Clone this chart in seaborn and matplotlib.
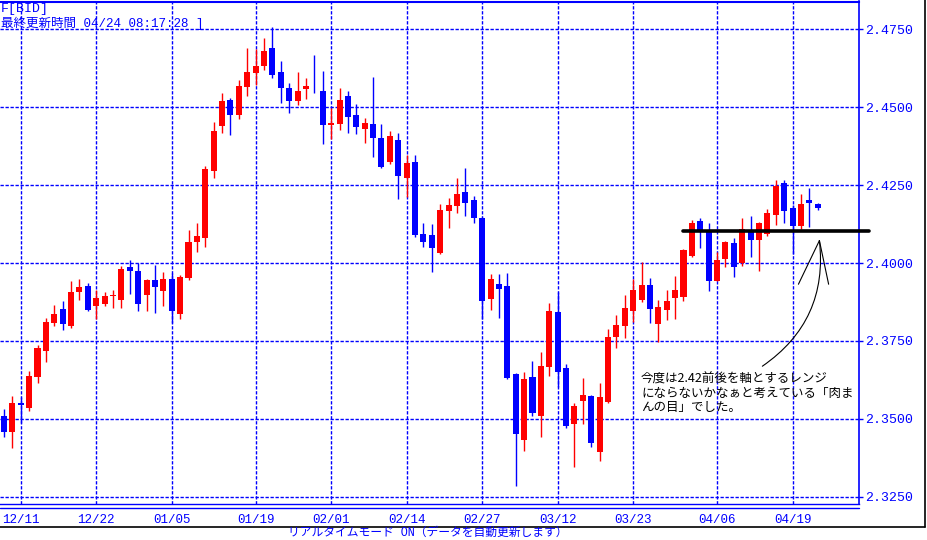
import numpy as np
import pandas as pd
import seaborn as sns
import matplotlib.pyplot as plt
from matplotlib.lines import Line2D

# Daily candles (BID), oldest first
opens = [2.3510, 2.3459, 2.3552, 2.3536, 2.3633, 2.3719, 2.3809, 2.3853, 2.3797, 2.3906,
         2.3927, 2.3861, 2.3867, 2.3893, 2.3883, 2.3988, 2.3975, 2.3899, 2.3946, 2.3911,
         2.3950, 2.3835, 2.3953, 2.4066, 2.4079, 2.4294, 2.4439, 2.4524, 2.4474, 2.4564,
         2.4609, 2.4631, 2.4691, 2.4614, 2.4563, 2.4519, 2.4557, 2.4563, 2.4553, 2.4442,
         2.4445, 2.4537, 2.4476, 2.4429, 2.4447, 2.4402, 2.4323, 2.4396, 2.4272, 2.4325,
         2.4094, 2.4091, 2.4031, 2.4166, 2.4184, 2.4229, 2.4203, 2.4146, 2.3886, 2.3934,
         2.3927, 2.3645, 2.3433, 2.3635, 2.3508, 2.3668, 2.3844, 2.3664, 2.3485, 2.3559,
         2.3574, 2.3395, 2.3553, 2.3764, 2.3797, 2.3847, 2.3881, 2.3930, 2.3803, 2.3850,
         2.3889, 2.3890, 2.4023, 2.4135, 2.4098, 2.3943, 2.4012, 2.4065, 2.3999, 2.4098,
         2.4073, 2.4092, 2.4153, 2.4258, 2.4178, 2.4120, 2.4203, 2.4190]
highs = [2.3531, 2.3572, 2.3571, 2.3654, 2.3738, 2.3824, 2.3866, 2.3879, 2.3943, 2.3950,
         2.3935, 2.3913, 2.3906, 2.3912, 2.3992, 2.4011, 2.3999, 2.3949, 2.3995, 2.3972,
         2.3969, 2.3962, 2.4107, 2.4129, 2.4312, 2.4451, 2.4547, 2.4531, 2.4588, 2.4691,
         2.4688, 2.4723, 2.4756, 2.4649, 2.4576, 2.4614, 2.4595, 2.4666, 2.4617, 2.4496,
         2.4560, 2.4553, 2.4511, 2.4466, 2.4598, 2.4447, 2.4422, 2.4418, 2.4348, 2.4348,
         2.4129, 2.4126, 2.4190, 2.4210, 2.4272, 2.4306, 2.4216, 2.4148, 2.3966, 2.3966,
         2.3969, 2.3648, 2.3651, 2.3686, 2.3715, 2.3873, 2.3908, 2.3677, 2.3552, 2.3632,
         2.3576, 2.3616, 2.3789, 2.3834, 2.3898, 2.3950, 2.4004, 2.3953, 2.3882, 2.3914,
         2.3959, 2.4045, 2.4138, 2.4146, 2.4127, 2.4034, 2.4070, 2.4079, 2.4145, 2.4152,
         2.4133, 2.4174, 2.4267, 2.4267, 2.4187, 2.4222, 2.4242, 2.4193]
lows = [2.3442, 2.3408, 2.3488, 2.3524, 2.3614, 2.3684, 2.3797, 2.3786, 2.3790, 2.3883,
        2.3847, 2.3822, 2.3861, 2.3857, 2.3857, 2.3902, 2.3847, 2.3847, 2.3841, 2.3863,
        2.3809, 2.3821, 2.3946, 2.4037, 2.4050, 2.4273, 2.4416, 2.4410, 2.4461, 2.4535,
        2.4570, 2.4620, 2.4594, 2.4512, 2.4480, 2.4506, 2.4525, 2.4544, 2.4381, 2.4397,
        2.4426, 2.4416, 2.4413, 2.4384, 2.4339, 2.4305, 2.4317, 2.4207, 2.4211, 2.4085,
        2.4053, 2.3970, 2.4029, 2.4111, 2.4161, 2.4150, 2.4127, 2.3820, 2.3850, 2.3825,
        2.3628, 2.3285, 2.3397, 2.3510, 2.3442, 2.3638, 2.3603, 2.3471, 2.3346, 2.3485,
        2.3411, 2.3365, 2.3551, 2.3729, 2.3761, 2.3812, 2.3876, 2.3809, 2.3747, 2.3818,
        2.3820, 2.3877, 2.4018, 2.4047, 2.3909, 2.3941, 2.3986, 2.3956, 2.3989, 2.4018,
        2.3976, 2.4087, 2.4123, 2.4127, 2.4029, 2.4110, 2.4117, 2.4171]
closes = [2.3459, 2.3552, 2.3543, 2.3638, 2.3726, 2.3812, 2.3837, 2.3806, 2.3908, 2.3924,
          2.3850, 2.3889, 2.3895, 2.3899, 2.3982, 2.3973, 2.3870, 2.3946, 2.3922, 2.3950,
          2.3847, 2.3956, 2.4068, 2.4088, 2.4303, 2.4425, 2.4521, 2.4474, 2.4569, 2.4614,
          2.4633, 2.4681, 2.4602, 2.4560, 2.4519, 2.4553, 2.4569, 2.4560, 2.4442, 2.4448,
          2.4524, 2.4467, 2.4435, 2.4450, 2.4400, 2.4307, 2.4409, 2.4278, 2.4322, 2.4089,
          2.4066, 2.4047, 2.4171, 2.4187, 2.4222, 2.4191, 2.4143, 2.3877, 2.3950, 2.3918,
          2.3631, 2.3450, 2.3629, 2.3519, 2.3670, 2.3847, 2.3652, 2.3478, 2.3542, 2.3577,
          2.3424, 2.3571, 2.3763, 2.3802, 2.3857, 2.3914, 2.3930, 2.3851, 2.3860, 2.3879,
          2.3914, 2.4042, 2.4130, 2.4100, 2.3941, 2.4011, 2.4068, 2.3986, 2.4110, 2.4073,
          2.4127, 2.4161, 2.4248, 2.4168, 2.4120, 2.4190, 2.4191, 2.4178]

tick_pos = [2, 11, 20, 30, 39, 48, 57, 66, 75, 85, 94]
tick_labels = ["12/11", "12/22", "01/05", "01/19", "02/01", "02/14",
               "02/27", "03/12", "03/23", "04/06", "04/19"]
price_ticks = [2.3250, 2.3500, 2.3750, 2.4000, 2.4250, 2.4500, 2.4750]
support_level = 2.4103

note = "今度は2.42前後を軸とするレンジ\nにならないかなぁと考えている「肉ま\nんの目」でした。"

sns.set_theme(style="white")
plt.rcParams['font.family'] = ['Noto Sans CJK JP', 'DejaVu Sans']
MONO_JP = ['Liberation Mono', 'Noto Sans CJK JP']
BLUE = '#0000ff'
RED = '#ff0000'
W, H = 927, 540

fig = plt.figure(figsize=(9.27, 5.40), dpi=100)
ax = fig.add_axes([0, 1 - 504 / H, 859 / W, (504 - 1.5) / H])

df = pd.DataFrame({'open': opens, 'high': highs, 'low': lows, 'close': closes})
df['idx'] = np.arange(len(df))
colors = np.where(df['close'] >= df['open'], RED, BLUE)

# wicks + bodies
ax.vlines(df['idx'], df['low'], df['high'], colors=colors, lw=1.0, zorder=3)
body_bottom = df[['open', 'close']].min(axis=1)
body_h = (df['close'] - df['open']).abs().clip(lower=0.0003)
ax.bar(df['idx'], body_h, bottom=body_bottom, width=0.72, color=colors,
       edgecolor='none', zorder=4)

# support line drawn by hand on the chart
sns.lineplot(x=[81, 103.1], y=[support_level, support_level], color='black',
             lw=2.6, clip_on=False, ax=ax, zorder=5)

# hand drawn arrows
apex = (97.2, 2.4072)
ax.plot([apex[0], 94.7], [apex[1], 2.3932], color='black', lw=0.8, clip_on=False, zorder=5)
ax.plot([apex[0], 98.3], [apex[1], 2.3932], color='black', lw=0.8, clip_on=False, zorder=5)
ax.annotate("", xy=apex, xytext=(90.4, 2.3669),
            arrowprops=dict(arrowstyle='-', connectionstyle='arc3,rad=0.3',
                            color='black', lw=0.8, shrinkA=0, shrinkB=0))

ax.set_xlim(-0.47, 101.92)
ax.set_ylim(2.3227, 2.4839)

ax.set_xticks(tick_pos)
ax.set_xticklabels(tick_labels)
ax.yaxis.tick_right()
ax.set_yticks(price_ticks)
ax.set_yticklabels([f"{v:.4f}" for v in price_ticks])
ax.set_axisbelow(True)
ax.grid(True, color=BLUE, ls=(0, (2.4, 1.2)), lw=1.0)
ax.tick_params(axis='x', length=0, pad=7, colors=BLUE, labelsize=9)
ax.tick_params(axis='y', length=3, width=1, pad=1.5, colors=BLUE, labelsize=9.5)
for lbl in ax.get_xticklabels() + ax.get_yticklabels():
    lbl.set_fontfamily('Liberation Mono')

ax.spines['left'].set_visible(False)
for s in ['top', 'right', 'bottom']:
    ax.spines[s].set_color(BLUE)
ax.spines['top'].set_linewidth(1.5)
ax.spines['right'].set_linewidth(1.2)
ax.spines['bottom'].set_linewidth(1.0)

# second bottom rule, outer black frame
fig.add_artist(Line2D([0, 859 / W], [1 - 507.5 / H] * 2, color=BLUE, lw=1.0))
fig.add_artist(Line2D([0, 925 / W], [1 - 526.5 / H] * 2, color='black', lw=1.2))
fig.add_artist(Line2D([925 / W] * 2, [1 - 526.5 / H, 1], color='black', lw=1.2))

# header / footer / note
fig.text(1 / W, 1 - 9 / H, "F[BID]", color=BLUE, fontsize=9.5, va='center',
         ha='left', family=MONO_JP)
fig.text(1 / W, 1 - 23 / H, "最終更新時間 04/24 08:17:28 ]", color=BLUE,
         fontsize=9, va='center', ha='left', family=MONO_JP)
fig.text(428 / W, 1 - 533 / H, "リアルタイムモード ON（データを自動更新します）",
         color=BLUE, fontsize=8.5, va='center', ha='center', family=MONO_JP)
fig.text(641 / W, 1 - 373 / H, note, color='black', fontsize=9, va='top',
         ha='left', linespacing=1.1)

fig.savefig("out.png", dpi=100)
